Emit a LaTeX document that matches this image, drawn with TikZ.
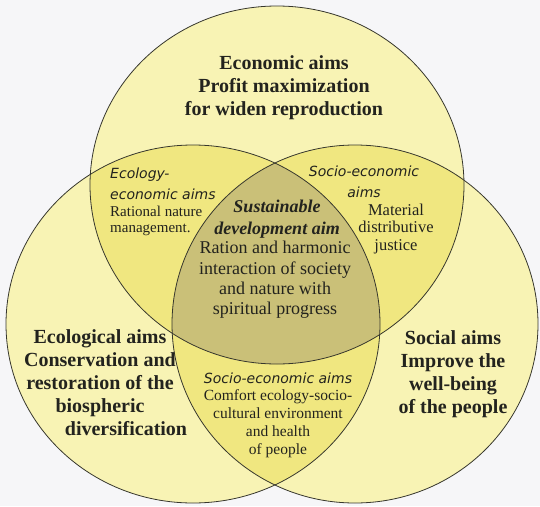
\documentclass[tikz,border=0pt]{standalone}
\usepackage{fontspec}
\setmainfont{Liberation Serif}[BoldFont={Liberation Serif Bold}, ItalicFont={Liberation Serif Italic}, BoldItalicFont={Liberation Serif Bold Italic}]
\newfontfamily\aimserif{Liberation Serif}
\newfontfamily\aimsans{DejaVu Sans}

\definecolor{paleyellow}{RGB}{248,243,180}
\definecolor{midyellow}{RGB}{240,231,128}
\definecolor{darkolive}{RGB}{202,192,120}
\definecolor{rimgray}{RGB}{55,55,45}
\definecolor{bggray}{RGB}{246,246,248}
\definecolor{inkgray}{RGB}{35,35,30}

\tikzset{
  aimhead/.style={align=center, inner sep=0pt, text=inkgray,
    font=\aimserif\fontsize{20}{23}\selectfont\bfseries},
  subhead/.style={align=center, inner sep=0pt, text=inkgray,
    font=\aimsans\fontsize{14}{21}\selectfont\itshape},
  subtext/.style={align=center, inner sep=0pt, text=inkgray,
    font=\aimserif\fontsize{15.5}{18}\selectfont},
  rim/.style={draw=rimgray, line width=0.8pt}
}

\begin{document}
\begin{tikzpicture}[x=1pt,y=-1pt]
            \fill[bggray] (0,0) rectangle (540,506);
            \useasboundingbox (0,0) rectangle (540,506);
            \fill[paleyellow] (277,185) ellipse [x radius=187, y radius=179];
            \fill[paleyellow] (193,324) ellipse [x radius=187, y radius=179];
            \fill[paleyellow] (355,324) ellipse [x radius=183, y radius=179];
            \begin{scope}
                \clip (277,185) ellipse [x radius=187, y radius=179];
                \fill[midyellow] (193,324) ellipse [x radius=187, y radius=179];
                \fill[midyellow] (355,324) ellipse [x radius=183, y radius=179];
            \end{scope}
            \begin{scope}
                \clip (193,324) ellipse [x radius=187, y radius=179];
                \fill[midyellow] (355,324) ellipse [x radius=183, y radius=179];
                \clip (277,185) ellipse [x radius=187, y radius=179];
                \fill[darkolive] (355,324) ellipse [x radius=183, y radius=179];
            \end{scope}
            \draw[rim] (277,185) ellipse [x radius=187, y radius=179];
            \draw[rim] (193,324) ellipse [x radius=187, y radius=179];
            \draw[rim] (355,324) ellipse [x radius=183, y radius=179];

            \node[aimhead] (econ) at (284,88) {Economic aims\\Profit maximization\\for widen reproduction};
            \node[aimhead] (ecol) at (100,383) {Ecological aims\\Conservation and\\restoration of the\\biospheric\\\hspace*{2.6em}diversification};
            \node[aimhead] (social) at (453,374) {Social aims\\Improve the\\well-being\\of the people};

            \node[subhead, align=left, anchor=west] (ecoecohead) at (110,184) {Ecology-\\economic aims};
            \node[subtext, align=left, anchor=west, font=\aimserif\fontsize{15}{16.5}\selectfont] (ecoecotext) at (110,221) {Rational nature\\management.};

            \node[subhead] (socecohead) at (364,182) {Socio-economic\\aims};
            \node[subtext, font=\aimserif\fontsize{16.5}{17.5}\selectfont] (socecotext) at (396,229) {Material\\distributive\\justice};

            \node[subtext, font=\aimserif\fontsize{18}{21.5}\selectfont\bfseries\itshape] (sdhead) at (277,219) {Sustainable\\development aim};
            \node[subtext, font=\aimserif\fontsize{18}{20.3}\selectfont] (sdtext) at (275,280) {Ration and harmonic\\interaction of society\\and nature with\\spiritual progress};

            \node[subhead] (socialhead) at (278,378) {Socio-economic aims};
            \node[subtext] (socialtext) at (278,424) {Comfort ecology-socio-\\cultural environment\\and health\\of people};
        \end{tikzpicture}
\end{document}
